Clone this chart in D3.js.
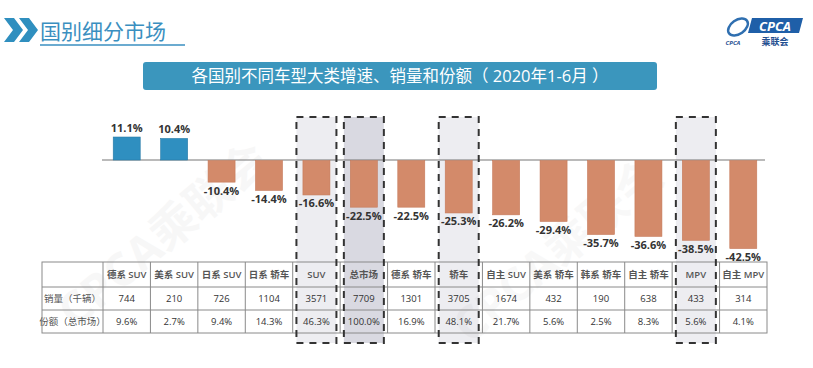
<!DOCTYPE html>
<html>
<head>
<meta charset="utf-8">
<script src="https://cdn.jsdelivr.net/npm/d3@7"></script>
<style>
  body { margin: 0; background: #fff; }
  text { font-family: "Open Sans", "Noto Sans CJK SC", sans-serif; }
</style>
</head>
<body>
<div id="viz-container"></div>
<script>
// data
let categories = ["德系 SUV", "美系 SUV", "日系 SUV", "日系 轿车", "SUV", "总市场", "德系 轿车", "轿车", "自主 SUV", "美系 轿车", "韩系 轿车", "自主 轿车", "MPV", "自主 MPV"];
let growth = [11.1, 10.4, -10.4, -14.4, -16.6, -22.5, -22.5, -25.3, -26.2, -29.4, -35.7, -36.6, -38.5, -42.5];
let sales = [744, 210, 726, 1104, 3571, 7709, 1301, 3705, 1674, 432, 190, 638, 433, 314];
let shares = ["9.6%", "2.7%", "9.4%", "14.3%", "46.3%", "100.0%", "16.9%", "48.1%", "21.7%", "5.6%", "2.5%", "8.3%", "5.6%", "4.1%"];
let rowLabels = ["销量（千辆）", "份额（总市场）"];
let highlighted = ["SUV", "总市场", "轿车", "MPV"];

let viz = d3.select("#viz-container")
    .append("svg")
        .attr("width", 813)
        .attr("height", 368);

// page header
viz.append("path")
    .attr("d", "M4,18 L14,18 L23,30 L14,42 L4,42 L13,30 Z M19,18 L29,18 L38,30 L29,42 L19,42 L28,30 Z")
    .attr("fill", "#2f8fbf");
viz.append("text")
    .text("国别细分市场")
    .attr("x", 40).attr("y", 39)
    .attr("font-size", "21px")
    .attr("fill", "#3a8fc0");
viz.append("line")
    .attr("x1", 40).attr("x2", 185)
    .attr("y1", 45).attr("y2", 45)
    .attr("stroke", "#3a8fc0").attr("stroke-width", 1.5);

// logo
let logo = viz.append("g");
logo.append("ellipse")
    .attr("cx", 738).attr("cy", 27).attr("rx", 11).attr("ry", 7)
    .attr("fill", "none").attr("stroke", "#2f6fb0").attr("stroke-width", 2.5)
    .attr("transform", "rotate(-35,738,27)");
logo.append("path")
    .attr("d", "M752,18 L803,18 L799,33 L748,33 Z")
    .attr("fill", "#1f5fa8");
logo.append("text")
    .text("CPCA")
    .attr("x", 775).attr("y", 30.5)
    .attr("text-anchor", "middle")
    .attr("font-size", "13px").attr("font-style", "italic").attr("font-weight", "bold")
    .attr("fill", "#fff");
logo.append("text")
    .text("乘联会")
    .attr("x", 775).attr("y", 45)
    .attr("text-anchor", "middle")
    .attr("font-size", "9px").attr("font-weight", "bold")
    .attr("fill", "#1f4f90");
logo.append("text")
    .text("CPCA")
    .attr("x", 733).attr("y", 45)
    .attr("text-anchor", "middle")
    .attr("font-size", "6px").attr("font-style", "italic").attr("font-weight", "bold")
    .attr("fill", "#1f4f90");

// title banner
viz.append("rect")
    .attr("x", 143).attr("y", 62)
    .attr("width", 514).attr("height", 28)
    .attr("rx", 3)
    .attr("fill", "#3b96bd");
viz.append("text")
    .text("各国别不同车型大类增速、销量和份额（ 2020年1-6月 ）")
    .attr("x", 400).attr("y", 82)
    .attr("text-anchor", "middle")
    .attr("font-size", "16.5px")
    .attr("fill", "#fff");

// scales
let x = d3.scaleBand()
    .domain(categories)
    .range([103, 767])
    .padding(0);
let y = d3.scaleLinear()
    .domain([-45, 12])
    .range([160 + 45 * 2.07, 160 - 12 * 2.07]);

let barW = 27;
let boxW = 40;

// highlight boxes (fill behind)
viz.selectAll(".hlFill").data(highlighted).enter().append("rect")
    .attr("class", "hlFill")
    .attr("x", d => x(d) + (x.bandwidth() - boxW) / 2)
    .attr("y", 117)
    .attr("width", boxW)
    .attr("height", 226)
    .attr("fill", d => d == "总市场" ? "#d9d9e1" : "#ededf1");

// watermark
viz.append("text")
    .text("CPCA乘联会")
    .attr("transform", "translate(75,330) rotate(-40)")
    .attr("font-size", "46px").attr("font-weight", "bold")
    .attr("fill", "#000").attr("opacity", 0.028);
viz.append("text")
    .text("CPCA乘联会")
    .attr("transform", "translate(470,345) rotate(-40)")
    .attr("font-size", "46px").attr("font-weight", "bold")
    .attr("fill", "#000").attr("opacity", 0.022);

// baseline
viz.append("line")
    .attr("x1", 102).attr("x2", 765)
    .attr("y1", y(0)).attr("y2", y(0))
    .attr("stroke", "#777").attr("stroke-width", 1.2);

// bars
viz.selectAll(".bar").data(growth).enter().append("rect")
    .attr("class", "bar")
    .attr("x", (d, i) => x(categories[i]) + (x.bandwidth() - barW) / 2)
    .attr("y", d => d > 0 ? y(d) : y(0) + 0.6)
    .attr("width", barW)
    .attr("height", d => Math.abs(y(d) - y(0)))
    .attr("fill", d => d > 0 ? "#2f8fc0" : "#d38a6a")
    .attr("stroke", d => d > 0 ? "#267aa6" : "#c67a5a")
    .attr("stroke-width", 0.6);

viz.selectAll(".barLabel").data(growth).enter().append("text")
    .attr("class", "barLabel")
    .text(d => d.toFixed(1) + "%")
    .attr("x", (d, i) => x(categories[i]) + x.bandwidth() / 2)
    .attr("y", d => d > 0 ? y(d) - 5 : y(d) + 13)
    .attr("text-anchor", "middle")
    .attr("font-size", "11px").attr("font-weight", "bold")
    .attr("fill", "#333");

// table
let rowY = [262, 287, 310, 333];
let tableLeft = 42;
let table = viz.append("g");

table.append("rect")
    .attr("x", tableLeft).attr("y", rowY[0])
    .attr("width", 767 - tableLeft).attr("height", rowY[3] - rowY[0])
    .attr("fill", "none").attr("stroke", "#8a8a8a").attr("stroke-width", 1);
table.selectAll(".hline").data(rowY.slice(1, 3)).enter().append("line")
    .attr("x1", tableLeft).attr("x2", 767)
    .attr("y1", d => d).attr("y2", d => d)
    .attr("stroke", "#8a8a8a").attr("stroke-width", 1);
table.selectAll(".vline").data(categories).enter().append("line")
    .attr("x1", d => x(d)).attr("x2", d => x(d))
    .attr("y1", rowY[0]).attr("y2", rowY[3])
    .attr("stroke", "#8a8a8a").attr("stroke-width", 1);

table.selectAll(".rowLabel").data(rowLabels).enter().append("text")
    .text(d => d)
    .attr("x", (tableLeft + 103) / 2)
    .attr("y", (d, i) => (rowY[i + 1] + rowY[i + 2]) / 2 + 3.5)
    .attr("text-anchor", "middle")
    .attr("font-size", "9.5px")
    .attr("fill", "#555");

table.selectAll(".head").data(categories).enter().append("text")
    .text(d => d)
    .attr("x", d => x(d) + x.bandwidth() / 2)
    .attr("y", (rowY[0] + rowY[1]) / 2 + 3.5)
    .attr("text-anchor", "middle")
    .attr("font-size", "9.5px").attr("font-weight", "600")
    .attr("fill", "#555");

table.selectAll(".sales").data(sales).enter().append("text")
    .text(d => d)
    .attr("x", (d, i) => x(categories[i]) + x.bandwidth() / 2)
    .attr("y", (rowY[1] + rowY[2]) / 2 + 3.5)
    .attr("text-anchor", "middle")
    .attr("font-size", "9.5px")
    .attr("fill", "#333");

table.selectAll(".share").data(shares).enter().append("text")
    .text(d => d)
    .attr("x", (d, i) => x(categories[i]) + x.bandwidth() / 2)
    .attr("y", (rowY[2] + rowY[3]) / 2 + 3.5)
    .attr("text-anchor", "middle")
    .attr("font-size", "9.5px")
    .attr("fill", "#333");

// dashed box outlines on top
viz.selectAll(".hlBox").data(highlighted).enter().append("rect")
    .attr("class", "hlBox")
    .attr("x", d => x(d) + (x.bandwidth() - boxW) / 2)
    .attr("y", 117)
    .attr("width", boxW)
    .attr("height", 226)
    .attr("fill", "none")
    .attr("stroke", "#333")
    .attr("stroke-width", 2)
    .attr("stroke-dasharray", "7,6");
</script>
</body>
</html>
